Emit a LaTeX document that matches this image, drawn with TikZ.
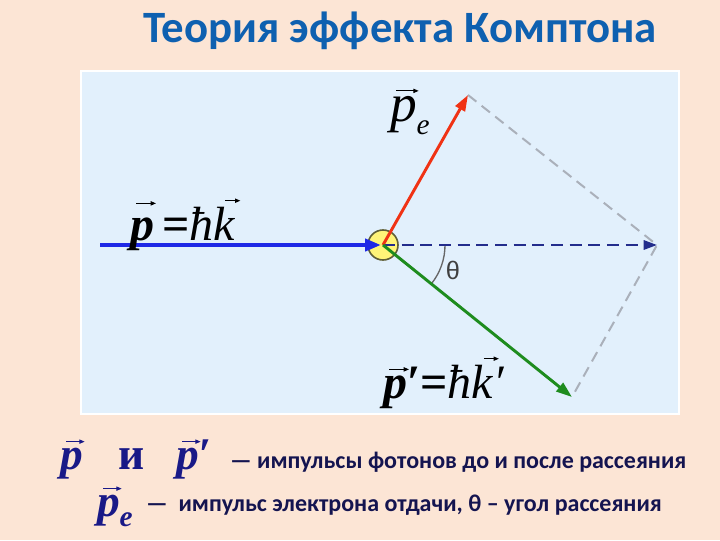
\documentclass[tikz,border=0pt]{standalone}
\usepackage{fontspec}
\setmainfont{Liberation Serif}
\newfontfamily\carl{Carlito}
\newfontfamily\lsans{Liberation Sans}
\usetikzlibrary{arrows.meta,calc}
\definecolor{bgpeach}{RGB}{252,229,213}
\definecolor{panelblue}{RGB}{226,240,252}
\definecolor{titleblue}{RGB}{14,96,176}
\definecolor{inblue}{RGB}{30,40,230}
\definecolor{navydash}{RGB}{35,45,140}
\definecolor{redarr}{RGB}{240,50,20}
\definecolor{greenarr}{RGB}{30,140,30}
\definecolor{graydash}{RGB}{170,176,186}
\definecolor{ballyellow}{RGB}{255,244,120}
\definecolor{ballrim}{RGB}{95,95,55}
\definecolor{navytext}{RGB}{25,25,135}
\definecolor{darktext}{RGB}{20,20,80}
\tikzset{
  lbl/.style={inner sep=0pt, outer sep=0pt, anchor=base west},
  mlab/.style={lbl, font={\fontsize{36}{40}\selectfont}},
  blab/.style={lbl, text=navytext, font={\bfseries\itshape\fontsize{34}{38}\selectfont}},
  rutext/.style={lbl, text=darktext, font={\carl\bfseries\fontsize{18}{21}\selectfont}},
  vecarr/.style={line width=0.75pt, -{Triangle[length=4pt,width=3.2pt]}},
}
\begin{document}
\begin{tikzpicture}[x=0.75pt,y=0.75pt]
\useasboundingbox (0,0) rectangle (720,540);
\fill[bgpeach] (0,0) rectangle (720,540);
% panel
\node[inner sep=0pt, anchor=south west, minimum width=598*0.75pt, minimum height=343*0.75pt,
      fill=panelblue, draw=white, line width=1.2pt] (panel) at (80,125) {};
% title
\node[inner sep=0pt, anchor=base, text=titleblue, font={\carl\bfseries\fontsize{33.6}{38}\selectfont}]
  (title) at (400,497) {Теория эффекта Комптона};
% key points
\coordinate (O) at (383,295);
\coordinate (S) at (100,295);
\coordinate (E) at (468,445);
\coordinate (F) at (657,295);
\coordinate (G) at (572,143);
% collision ball
\node[circle, minimum size=30*0.75pt, inner sep=0pt, fill=ballyellow, draw=ballrim, line width=1.2pt] (ball) at (O) {};
% parallelogram dashes
\draw[graydash, line width=1.5pt, dash pattern=on 8pt off 5pt] (E) -- (F) -- (G);
% angle arc
\draw[black!60, line width=1pt] ($(O)+(62,0)$) arc[start angle=0, end angle=-38.8, radius=62*0.75pt];
% arrows
\draw[inblue, line width=3.2pt, -{Triangle[length=12pt,width=9pt]}] (S) -- ($(O)+(-2,0)$);
\draw[navydash, line width=1.6pt, dash pattern=on 9pt off 5pt, -{Triangle[length=10pt,width=7pt]}] (O) -- (F);
\draw[redarr, line width=2.2pt, -{Triangle[length=12pt,width=8pt]}] (O) -- (E);
\draw[greenarr, line width=2.2pt, -{Triangle[length=12pt,width=8pt]}] (O) -- (G);
% theta label
\node[inner sep=0pt, anchor=base, font={\lsans\fontsize{19}{21}\selectfont}, text=black!75] (th) at (453,261) {θ};
% label p = hbar k
\node[mlab] (lpA) at (130,300) {\textbf{\textit{p}}};
\node[mlab] (lpB) at (lpA.base east) {\,\textbf{=}\textit{ħ}};
\node[mlab] (lpC) at (lpB.base east) {\textit{k}};
\draw[vecarr] ([shift={(6,14)}]lpA.north west) -- ([shift={(2,14)}]lpA.north east);
\draw[vecarr] ([shift={(12,6)}]lpC.north west) -- ([shift={(5,6)}]lpC.north east);
% label p_e
\node[lbl, font={\fontsize{40}{44}\selectfont}] (lpeA) at (390,418) {\textit{p}};
\node[lbl, font={\fontsize{22}{24}\selectfont}] (lpeB) at ($(lpeA.base east)+(0,-13)$) {\textit{e}};
\draw[vecarr] ([shift={(6,6)}]lpeA.north west) -- ([shift={(2,6)}]lpeA.north east);
% label p' = hbar k'
\node[mlab] (lqA) at (383,142) {\textbf{\textit{p}}};
\node[mlab] (lqB) at (lqA.base east) {\textbf{\char"2032=}\textit{ħ}};
\node[mlab] (lqC) at (lqB.base east) {\textit{k}};
\node[mlab] (lqD) at (lqC.base east) {\textit{\char"2032}};
\draw[vecarr] ([shift={(6,6)}]lqA.north west) -- ([shift={(2,6)}]lqA.north east);
\draw[vecarr] ([shift={(12,6)}]lqC.north west) -- ([shift={(5,6)}]lqC.north east);
% bottom text, line 1
\node[blab] (b1) at (60,71) {p};
\node[lbl, text=navytext, font={\bfseries\fontsize{34}{38}\selectfont}] (b2) at (118,71) {и};
\node[blab] (b3) at (176,71) {p};
\node[blab] (b3p) at (b3.base east) {\char"2032};
\draw[vecarr, draw=navytext, fill=navytext] ([shift={(6,6)}]b1.north west) -- ([shift={(2,6)}]b1.north east);
\draw[vecarr, draw=navytext, fill=navytext] ([shift={(6,6)}]b3.north west) -- ([shift={(2,6)}]b3.north east);
\node[rutext] (t1) at (230,72) {— импульсы фотонов до и после рассеяния};
% bottom text, line 2
\node[blab] (b4) at (97,24) {p};
\node[lbl, text=navytext, font={\bfseries\itshape\fontsize{22}{24}\selectfont}] (b4e) at ($(b4.base east)+(0,-10)$) {e};
\draw[vecarr, draw=navytext, fill=navytext] ([shift={(6,6)}]b4.north west) -- ([shift={(2,6)}]b4.north east);
\node[rutext] (t2) at (146,29) {—\ \ импульс электрона отдачи, θ – угол рассеяния};
\end{tikzpicture}
\end{document}
